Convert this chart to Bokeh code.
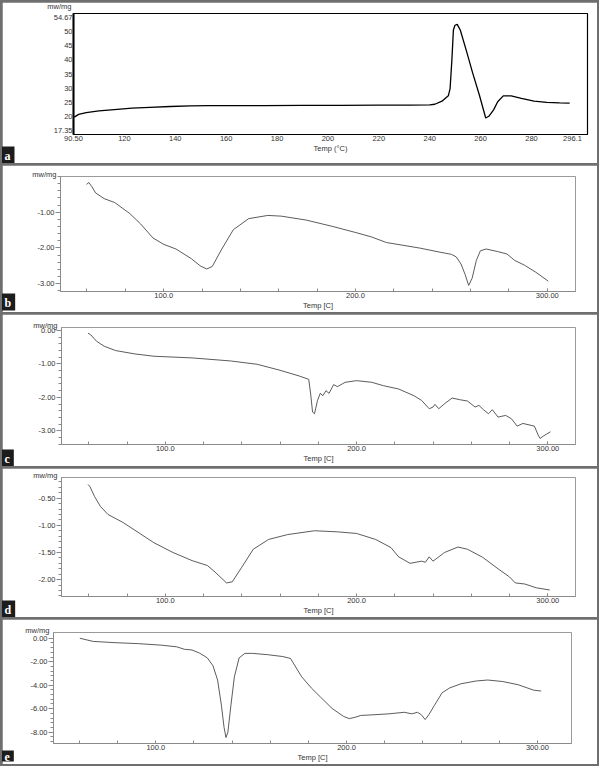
from bokeh.plotting import figure
from bokeh.models import FixedTicker, Label, Range1d, PrintfTickFormatter
from bokeh.layouts import column
from bokeh.embed import file_html
from bokeh.resources import INLINE

# ---------------- data ----------------
a_temp = [100.3, 102, 105, 110, 116, 123, 130, 138, 146, 153, 165, 175, 190, 205, 220, 232, 240, 242,
          244.8, 247.3, 248, 248.7, 249.3, 249.9, 250.8, 252, 254.5, 256.8, 259.5, 262, 263.2, 265.1,
          266.7, 268.9, 272, 276, 281, 286, 291, 295]
a_dsc = [19.6, 20.6, 21.2, 21.8, 22.3, 22.8, 23.1, 23.4, 23.6, 23.7, 23.7, 23.7, 23.8, 23.8, 23.9, 23.9,
         24.0, 24.2, 25.3, 27.2, 29.8, 40, 50.7, 52.4, 52.7, 50.7, 43, 35.6, 27.5, 19.3, 19.9, 22.2,
         25.1, 27.2, 27.2, 26.3, 25.3, 24.9, 24.7, 24.6]

b_temp = [59.8, 61.0, 62.5, 64.5, 69, 74.5, 82.4, 88, 94.4, 100, 106.4, 114.4, 119, 122.4, 125.3,
          130.3, 136.3, 144.3, 154.3, 161.3, 174.3, 188.2, 200.2, 208.2, 216.2, 224.2, 234.1, 244.1,
          250, 252.5, 255, 257.2, 259, 260.8, 263, 265.1, 268.1, 274, 279, 283, 288, 294, 300.5]
b_dsc = [-0.22, -0.17, -0.28, -0.46, -0.62, -0.73, -1.04, -1.33, -1.72, -1.9, -2.03, -2.3, -2.5, -2.59, -2.52,
         -2.03, -1.49, -1.18, -1.09, -1.11, -1.22, -1.40, -1.57, -1.69, -1.85, -1.92, -2.01, -2.12,
         -2.18, -2.25, -2.45, -2.75, -3.05, -2.85, -2.35, -2.08, -2.03, -2.1, -2.17, -2.35, -2.48, -2.68, -2.93]

c_temp = [59.6, 61, 64, 68, 74, 84, 94, 114, 134, 148, 160, 170, 175, 176, 177, 178, 179.6, 181, 182.4,
          184, 185.6, 188, 190, 194, 200, 208, 214, 222, 230, 234, 238, 240, 241, 243, 246, 250, 254,
          258, 262, 264, 266.4, 269, 271, 274, 278, 281, 284, 287, 293, 295, 296, 297.6, 301.4]
c_dsc = [-0.08, -0.13, -0.32, -0.47, -0.60, -0.70, -0.77, -0.82, -0.91, -1.01, -1.19, -1.36, -1.46, -1.90,
         -2.44, -2.49, -2.09, -1.88, -1.95, -1.80, -1.88, -1.62, -1.68, -1.55, -1.50, -1.55, -1.65, -1.75,
         -1.95, -2.09, -2.34, -2.29, -2.21, -2.34, -2.19, -2.02, -2.07, -2.11, -2.29, -2.24, -2.37, -2.49,
         -2.37, -2.59, -2.54, -2.64, -2.86, -2.78, -2.86, -3.13, -3.23, -3.16, -3.03]

d_temp = [59.6, 60.6, 63, 66, 70, 78, 94, 104, 114, 122, 126, 132, 135, 140, 146, 154, 164, 178, 190,
          200, 210, 218, 222, 228, 234, 236, 238, 240, 246, 253, 258, 266, 274, 280, 283, 288, 294, 301]
d_dsc = [-0.25, -0.29, -0.47, -0.65, -0.80, -0.95, -1.32, -1.50, -1.65, -1.74, -1.86, -2.06, -2.04, -1.77,
         -1.44, -1.26, -1.17, -1.10, -1.12, -1.15, -1.26, -1.41, -1.58, -1.70, -1.66, -1.68, -1.58, -1.66,
         -1.50, -1.40, -1.44, -1.59, -1.80, -1.95, -2.06, -2.08, -2.15, -2.19]

e_temp = [60.2, 67.2, 79.1, 91, 103, 111, 115, 119, 123, 127, 130, 132.4, 134.4, 135.8, 136.8, 137.8,
          139.4, 141.2, 143.7, 146.7, 150.7, 158.6, 166.6, 170.6, 176.5, 181.5, 186.5, 192.4, 198.4,
          201.4, 204.4, 207.4, 214.3, 222.3, 230.2, 234.2, 237.2, 239.2, 241.2, 243.1, 246.1, 250.1,
          254.1, 260, 268, 274, 281.9, 289.9, 298, 302]
e_dsc = [0.0, -0.27, -0.38, -0.46, -0.59, -0.73, -0.94, -1.0, -1.27, -1.67, -2.35, -3.56, -5.71, -7.6,
         -8.46, -8.0, -5.71, -3.29, -1.67, -1.29, -1.29, -1.40, -1.56, -1.72, -3.29, -4.23, -5.04, -5.98,
         -6.66, -6.85, -6.74, -6.58, -6.52, -6.44, -6.31, -6.44, -6.31, -6.52, -6.93, -6.52, -5.71, -4.64,
         -4.23, -3.88, -3.64, -3.56, -3.69, -3.96, -4.42, -4.5]

a_xticks = [100, 120, 140, 160, 180, 200, 220, 240, 260, 280, 296.1]
a_xlabels = {100: "90.50"}
a_yticks = [15, 20, 25, 30, 35, 40, 45, 50, 55]
a_ylabels = {15: "17.35", 55: "54.67"}
x_major = [100, 200, 300]
x_major_labels = {100: "100.0", 200: "200.0", 300: "300.00"}
x_minor = [60, 80, 120, 140, 160, 180, 220, 240, 260, 280, 300]

FONT = "Liberation Sans"
W = 595


def base(h, xr, yr, mbl, mbr, mbt, mbb):
    p = figure(width=W, height=h, x_range=Range1d(*xr), y_range=Range1d(*yr),
               output_backend="svg", toolbar_location=None, frame_align=False,
               min_border_left=mbl, min_border_right=mbr, min_border_top=mbt, min_border_bottom=mbb)
    p.grid.visible = False
    p.background_fill_color = "white"
    p.border_fill_color = "white"
    for ax in (p.xaxis[0], p.yaxis[0]):
        ax.major_label_text_font = FONT
        ax.major_label_text_font_size = "7.5px"
        ax.major_label_text_color = "#333333"
        ax.axis_label_text_font = FONT
        ax.axis_label_text_font_size = "7.5px"
        ax.axis_label_text_font_style = "normal"
        ax.axis_label_text_color = "#333333"
        ax.major_label_standoff = 1
        ax.axis_label_standoff = 0
    return p


def unit_label(p, xr, yr, dx, dy):
    p.add_layout(Label(x=xr[0], y=yr[1], x_units="data", y_units="data", x_offset=dx, y_offset=dy,
                       text="mw/mg", text_align="right", text_baseline="middle",
                       text_font=FONT, text_font_size="7.5px", text_color="#333333"), "above")


def letter(p, ch, xr, yr, mbl, mbb):
    p.add_layout(Label(x=xr[0], y=yr[0], x_units="data", y_units="data", x_offset=-mbl - 2, y_offset=-mbb,
                       text=ch, text_align="left", text_baseline="bottom",
                       text_font="Liberation Serif", text_font_style="bold",
                       text_font_size="12px", text_color="white",
                       background_fill_color="#1c1c1c", padding=(4, 4, 2, 1)), "left")


# ---------- panel a ----------
a_x = (100, 302)
a_y = (13.4, 56.6)
pa = base(161, a_x, a_y, 71, 10, 11, 29)
pa.line(a_temp, a_dsc, line_color="black", line_width=1.3)
pa.outline_line_color = "black"
pa.outline_line_width = 1.2
xa = pa.xaxis[0]
xa.ticker = FixedTicker(ticks=a_xticks)
xa.major_label_overrides = a_xlabels
xa.major_tick_out = 0
xa.major_tick_in = 0
xa.minor_tick_out = 0
xa.minor_tick_in = 0
xa.axis_line_color = "black"
xa.axis_label = "Temp (°C)"
ya = pa.yaxis[0]
ya.ticker = FixedTicker(ticks=a_yticks)
ya.major_label_overrides = a_ylabels
ya.major_tick_out = 0
ya.major_tick_in = 0
ya.minor_tick_out = 0
ya.minor_tick_in = 0
ya.axis_line_color = "black"
ya.axis_line_width = 2
unit_label(pa, a_x, a_y, -2, 7)
letter(pa, "a", a_x, a_y, 71, 29)


def dsc_panel(h, xr, yr, mbl, mbr, mbt, mbb, tx, ty, ymaj, ymin, ch):
    p = base(h, xr, yr, mbl, mbr, mbt, mbb)
    p.line(tx, ty, line_color="#4a4a4a", line_width=0.9)
    p.outline_line_color = "#9a9a9a"
    p.outline_line_width = 1
    xa = p.xaxis[0]
    xa.ticker = FixedTicker(ticks=x_major, minor_ticks=x_minor)
    xa.major_label_overrides = x_major_labels
    xa.major_tick_out = 0
    xa.major_tick_in = 3
    xa.minor_tick_out = 0
    xa.minor_tick_in = 3
    xa.axis_line_color = "#8a8a8a"
    xa.major_tick_line_color = "#8a8a8a"
    xa.minor_tick_line_color = "#8a8a8a"
    xa.axis_label = "Temp [C]"
    ya = p.yaxis[0]
    ya.ticker = FixedTicker(ticks=ymaj, minor_ticks=ymin)
    ya.formatter = PrintfTickFormatter(format="%.2f")
    ya.major_tick_out = 5
    ya.major_tick_in = 0
    ya.minor_tick_out = 3
    ya.minor_tick_in = 0
    ya.axis_line_color = "#8a8a8a"
    ya.major_tick_line_color = "#8a8a8a"
    ya.minor_tick_line_color = "#8a8a8a"
    unit_label(p, xr, yr, -4, 2)
    letter(p, ch, xr, yr, mbl, mbb)
    return p


b_minor = [round(-3.2 + 0.2 * i, 2) for i in range(17)]
c_minor = [round(-3.4 + 0.2 * i, 2) for i in range(18)]
d_minor = [round(-2.3 + 0.1 * i, 2) for i in range(22)]
e_minor = [round(-8.8 + 0.4 * i, 2) for i in range(23)]

pb = dsc_panel(147, (46.2, 314.7), (-3.22, 0.0), 58, 22, 11, 19, b_temp, b_dsc,
               [-1, -2, -3], b_minor, "b")
pc = dsc_panel(152, (45.7, 314.5), (-3.41, 0.09), 59, 22, 13, 22, c_temp, c_dsc,
               [0, -1, -2, -3], c_minor, "c")
pd = dsc_panel(149, (45.7, 314.5), (-2.31, -0.12), 59, 22, 9, 21, d_temp, d_dsc,
               [-0.5, -1, -1.5, -2], d_minor, "d")
pe = dsc_panel(145, (46.4, 317.9), (-8.97, 0.49), 51, 26, 13, 18, e_temp, e_dsc,
               [0, -2, -4, -6, -8], e_minor, "e")

layout = column(pa, pb, pc, pd, pe, spacing=2,
                styles={"background-color": "#6f6f6f", "padding": "2px"})

open("out.html", "w").write(file_html(layout, INLINE))
